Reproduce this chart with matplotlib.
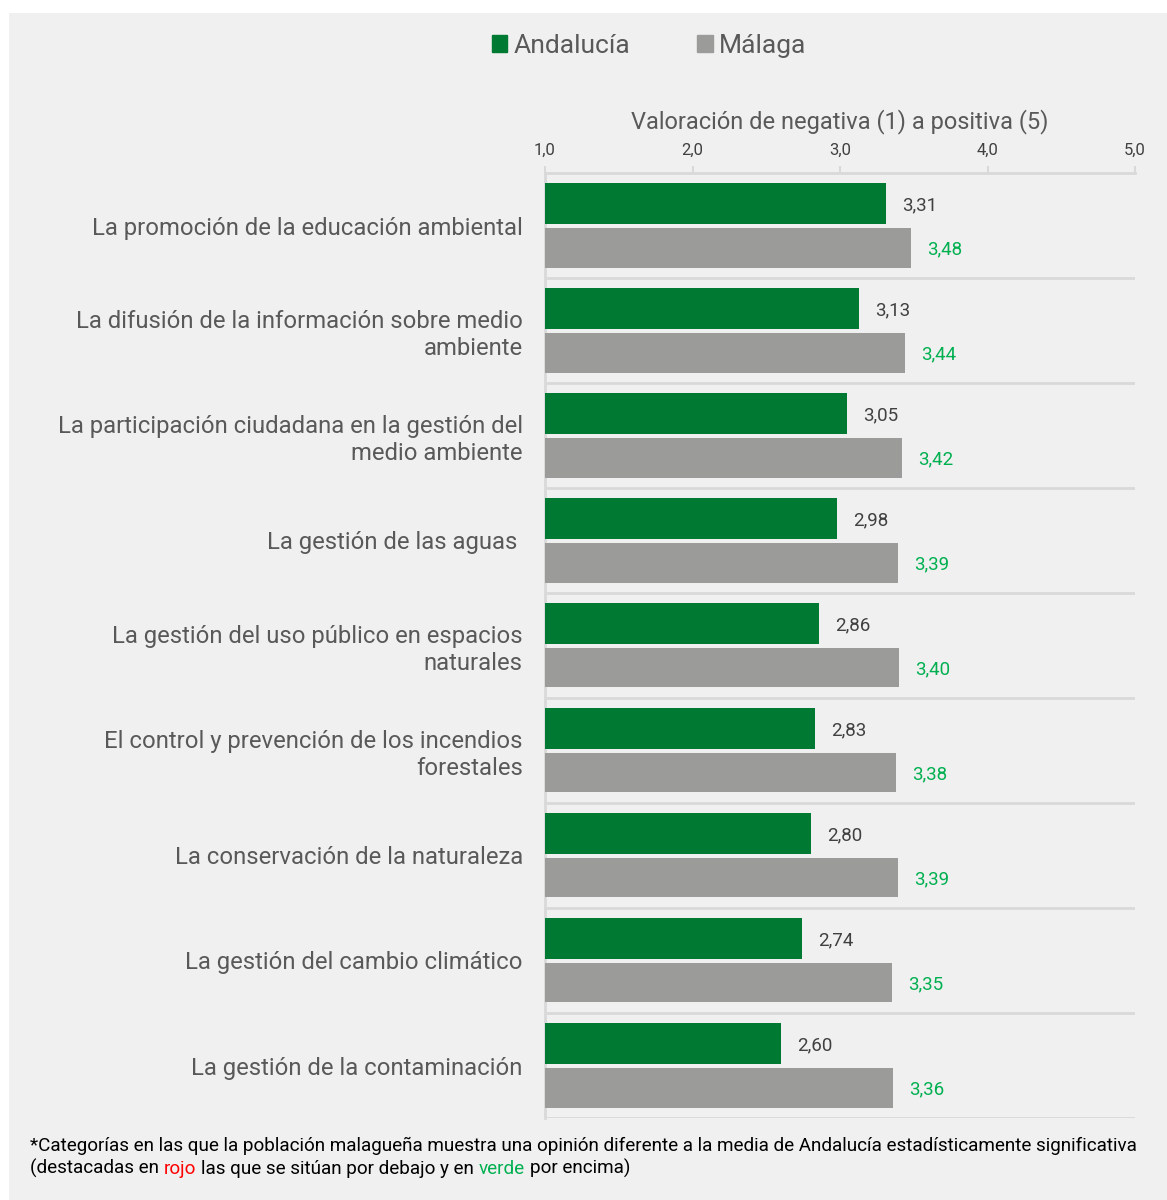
import numpy as np
import matplotlib.pyplot as plt
from matplotlib.patches import Patch, Rectangle

plt.rcParams['font.family'] = ['Roboto', 'DejaVu Sans']

categorias = ["La promoción de la educación ambiental",
              "La difusión de la información sobre medio\nambiente",
              "La participación ciudadana en la gestión del\nmedio ambiente",
              "La gestión de las aguas ",
              "La gestión del uso público en espacios\nnaturales",
              "El control y prevención de los incendios\nforestales",
              "La conservación de la naturaleza",
              "La gestión del cambio climático",
              "La gestión de la contaminación"]
andalucia = [3.31, 3.13, 3.05, 2.98, 2.86, 2.83, 2.80, 2.74, 2.60]
malaga = [3.48, 3.44, 3.42, 3.39, 3.40, 3.38, 3.39, 3.35, 3.36]
ticks = [1.0, 2.0, 3.0, 4.0, 5.0]

verde = "#007A33"
gris = "#9B9B9A"
verde_claro = "#00B050"
texto = "#595959"

fig = plt.figure(figsize=(11.67, 12), dpi=100)
fig.patch.set_facecolor("white")
# fondo gris del panel
fig.patches.append(Rectangle((9 / 1167, 0), 1, 1 - 13 / 1200, transform=fig.transFigure,
                             facecolor="#F0F0F0", edgecolor="none", zorder=-5))

ax = fig.add_axes([545 / 1167, 1 - 1118 / 1200, 590 / 1167, 945 / 1200])
ax.set_facecolor("none")

y = np.arange(len(categorias))
ax.barh(y + 0.29, np.array(andalucia) - 1, left=1, height=0.39, color=verde, zorder=3)
ax.barh(y + 0.71, np.array(malaga) - 1, left=1, height=0.38, color=gris, zorder=3)

for i in range(len(categorias)):
    ax.text(andalucia[i] + 0.11, i + 0.31, f"{andalucia[i]:.2f}".replace(".", ","),
            va="center", ha="left", fontsize=13.5, color="#404040")
    ax.text(malaga[i] + 0.11, i + 0.73, f"{malaga[i]:.2f}".replace(".", ","),
            va="center", ha="left", fontsize=13.5, color=verde_claro)

ax.set_xlim(1, 5)
ax.set_ylim(len(categorias), 0)

# lineas de separacion entre categorias
for i in range(1, len(categorias) + 1):
    ax.axhline(i, color="#D9D9D9", lw=2, zorder=1)

ax.set_yticks(y + 0.5)
ax.set_yticklabels(categorias, fontsize=17.2, color=texto, linespacing=1.2)
ax.tick_params(axis="y", length=0, pad=16)

ax.xaxis.tick_top()
ax.set_xticks(ticks)
ax.set_xticklabels([f"{t:.1f}".replace(".", ",") for t in ticks], fontsize=12, color="#404040")
ax.tick_params(axis="x", length=5, width=1.5, color="#D9D9D9", pad=6)
ax.xaxis.set_label_position("top")
ax.set_xlabel("Valoración de negativa (1) a positiva (5)", fontsize=17, color=texto, labelpad=10)

for s in ["right", "bottom"]:
    ax.spines[s].set_visible(False)
for s in ["left", "top"]:
    ax.spines[s].set_color("#D9D9D9")
    ax.spines[s].set_linewidth(2)

handles = [Patch(color=verde, label="Andalucía"), Patch(color=gris, label="Málaga")]
leg = fig.legend(handles=handles, loc="center", bbox_to_anchor=(649 / 1167, 1 - 46 / 1200),
                 ncol=2, frameon=False, fontsize=19, handlelength=0.6, handleheight=0.6,
                 handletextpad=0.25, columnspacing=2.5)
for t in leg.get_texts():
    t.set_color(texto)

# nota al pie
fs = 13.55
fig.text(30 / 1167, 1 - 1151 / 1200,
         "*Categorías en las que la población malagueña muestra una opinión diferente a la media de Andalucía estadísticamente significativa",
         fontsize=fs, color="black", va="baseline")
yb = 1 - 1174 / 1200
t0 = fig.text(30 / 1167, yb, "(destacadas en", fontsize=fs, color="black", va="baseline")
partes = [("rojo", "red"), ("las que se sitúan por debajo y en", "black"),
          ("verde", verde_claro), ("por encima)", "black")]
prev = t0
for txt, col in partes:
    prev = ax.annotate(txt, xy=(1, yb), xycoords=(prev, "figure fraction"),
                       xytext=(3.5, 0), textcoords="offset points",
                       fontsize=fs, color=col, va="baseline", ha="left",
                       annotation_clip=False)

plt.savefig("out.png", dpi=100, facecolor=fig.get_facecolor())
